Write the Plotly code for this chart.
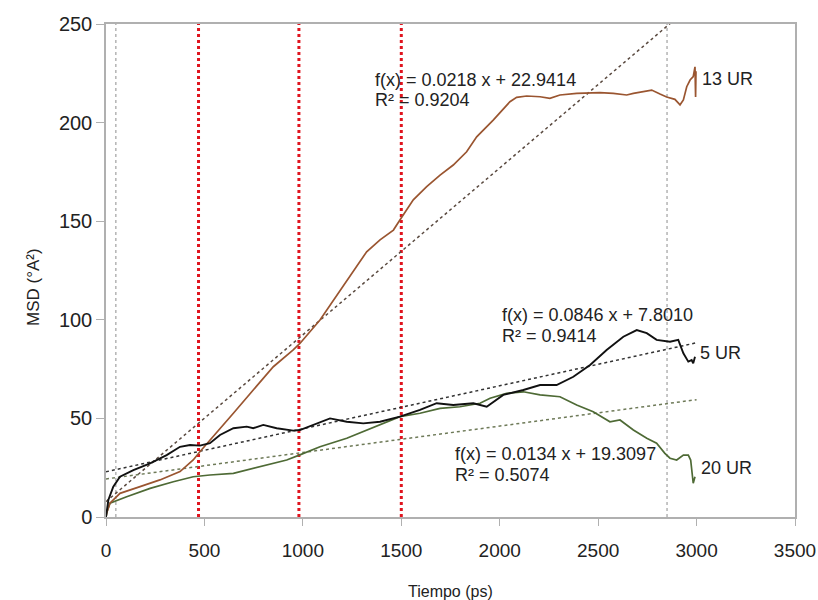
import plotly.graph_objects as go

# ---------------- data ----------------
t13 = [0, 3, 20, 71, 173, 274, 376, 443, 477, 545, 647, 748, 850, 951, 985, 1087, 1189, 1273,
       1324, 1392, 1460, 1493, 1561, 1629, 1697, 1764, 1832, 1883, 1967, 2052, 2086, 2137, 2205,
       2255, 2306, 2391, 2459, 2509, 2577, 2645, 2679, 2729, 2772, 2814, 2848, 2890, 2916, 2933,
       2950, 2967, 2983, 2992, 2995, 2997]
msd13 = [0, 2, 7, 12, 15.4, 18.8, 23, 28.9, 33.1, 40.7, 52.6, 64.4, 76.2, 84.7, 88, 99.9, 115, 127,
         134.5, 140.5, 145.5, 150.6, 160.8, 167.5, 173.4, 178.5, 185.2, 192.8, 201.3, 210.6, 212.8,
         213.5, 213.1, 212.3, 214, 214.8, 215.2, 215.2, 214.8, 214, 214.8, 215.7, 216.5, 214.5, 213,
         211.8, 209, 211.5, 218.2, 221.6, 223.3, 228.3, 213, 226]

t5 = [0, 3, 12, 37, 71, 139, 224, 308, 376, 427, 477, 528, 579, 647, 715, 748, 799, 867, 951,
      985, 1053, 1138, 1223, 1307, 1392, 1493, 1595, 1680, 1764, 1866, 1934, 2001, 2018, 2120,
      2205, 2289, 2374, 2459, 2543, 2628, 2696, 2747, 2797, 2865, 2907, 2933, 2958, 2975, 2983,
      2992]
msd5 = [0, 2, 8.6, 15.4, 20.4, 23.8, 27.2, 31.4, 35.6, 36.5, 36.2, 37.4, 41.6, 45, 45.8, 45,
        46.7, 45, 43.8, 44.1, 46.7, 50, 48.3, 47.5, 48.3, 50.9, 54.3, 57.7, 56.8, 57.7, 55.9,
        60.5, 61.9, 64.4, 66.9, 66.9, 71.1, 77.1, 84.7, 91.4, 94.8, 93.2, 89.8, 88.9, 89.8, 83,
        78.8, 79.6, 77.9, 81.3]

t20 = [0, 3, 20, 105, 224, 342, 443, 528, 647, 715, 816, 918, 985, 1087, 1223, 1324, 1409,
       1493, 1595, 1697, 1798, 1900, 1951, 2035, 2120, 2205, 2306, 2391, 2475, 2560, 2611, 2679,
       2747, 2797, 2839, 2865, 2899, 2933, 2958, 2970, 2983, 2992]
msd20 = [0, 2, 7, 10.3, 14.5, 17.9, 20.4, 21.3, 22.1, 23.8, 26.4, 28.9, 31.5, 35.6, 39.9, 44.1,
         47.5, 50.9, 52.6, 55.1, 55.9, 57.7, 60.2, 62.7, 63.5, 61.9, 61, 56.8, 53.4, 48.3, 49.2,
         44.1, 39.9, 37.4, 32.3, 29.8, 28.9, 31.4, 31.4, 28.9, 17.1, 20.4]

# linear fits shown on chart: (slope, intercept)
fit13 = (0.0846, 7.8010)
fit5 = (0.0218, 22.9414)
fit20 = (0.0134, 19.3097)
fit_range = [0, 3000]

red_marks = [470, 980, 1500]
gray_marks = [50, 2850]

x_ticks = [0, 500, 1000, 1500, 2000, 2500, 3000, 3500]
y_ticks = [0, 50, 100, 150, 200, 250]

# ---------------- figure ----------------
C13 = "#9a5530"
C5 = "#111111"
C20 = "#4e6a35"
FONT = "Liberation Sans"

fig = go.Figure()

for xv in gray_marks:
    fig.add_trace(go.Scatter(x=[xv, xv], y=[0, 250], mode="lines",
                             line=dict(color="#a8a8a8", width=1.3, dash="dot"),
                             hoverinfo="skip", showlegend=False))
for xv in red_marks:
    fig.add_trace(go.Scatter(x=[xv, xv], y=[0, 250], mode="lines",
                             line=dict(color="#e0141e", width=3, dash="dot"),
                             hoverinfo="skip", showlegend=False))

for (m, b), col in [(fit13, "#5a4a40"), (fit5, "#333333"), (fit20, "#6e7a58")]:
    fig.add_trace(go.Scatter(x=fit_range, y=[m * fit_range[0] + b, m * fit_range[1] + b],
                             mode="lines", line=dict(color=col, width=1.5, dash="dot"),
                             hoverinfo="skip", showlegend=False))

fig.add_trace(go.Scatter(x=t20, y=msd20, mode="lines", name="20 UR",
                         line=dict(color=C20, width=1.7), showlegend=False))
fig.add_trace(go.Scatter(x=t13, y=msd13, mode="lines", name="13 UR",
                         line=dict(color=C13, width=1.7), showlegend=False))
fig.add_trace(go.Scatter(x=t5, y=msd5, mode="lines", name="5 UR",
                         line=dict(color=C5, width=1.9), showlegend=False))

ann_font = dict(family=FONT, size=18, color="#222222")
annotations = [
    ("f(x) = 0.0218 x + 22.9414", 1356, 221.6),
    ("R² = 0.9204", 1356, 211.5),
    ("f(x) = 0.0846 x + 7.8010", 2001, 102.2),
    ("R² = 0.9414", 2001, 91.8),
    ("f(x) = 0.0134 x + 19.3097", 1763, 31.9),
    ("R² = 0.5074", 1763, 21.1),
    ("13 UR", 3017, 222.1),
    ("5 UR", 3005, 83.0),
    ("20 UR", 3010, 25.0),
]
for txt, xa, ya in annotations:
    fig.add_annotation(x=xa, y=ya, text=txt, showarrow=False, xanchor="left", yanchor="middle",
                       align="left", font=ann_font)

# axis titles as annotations for exact placement
fig.add_annotation(xref="paper", yref="y", x=-0.106, y=116.6, text="MSD (°A²)", textangle=-90,
                   showarrow=False, xanchor="center", yanchor="middle",
                   font=dict(family=FONT, size=17, color="#222222"))
fig.add_annotation(xref="paper", yref="paper", x=0.5, y=-0.152, text="Tiempo (ps)",
                   showarrow=False, xanchor="center", yanchor="middle",
                   font=dict(family=FONT, size=16, color="#222222"))

fig.update_layout(
    width=818, height=600,
    margin=dict(l=106, r=23, t=24, b=83, autoexpand=False),
    plot_bgcolor="white", paper_bgcolor="white",
    font=dict(family=FONT, color="#222222"),
    xaxis=dict(range=[0, 3500], tickvals=x_ticks, showgrid=False, zeroline=False,
               showline=True, linecolor="#b0b0b0", linewidth=1.5, mirror=True,
               ticks="outside", ticklen=7, tickcolor="#b0b0b0", automargin=False,
               ticklabelstandoff=8,
               tickfont=dict(size=19, family=FONT)),
    yaxis=dict(range=[0, 250], tickvals=y_ticks, showgrid=False, zeroline=False,
               showline=True, linecolor="#b0b0b0", linewidth=1.5, mirror=True,
               ticks="outside", ticklen=8, tickcolor="#b0b0b0", automargin=False,
               tickfont=dict(size=20, family=FONT)),
)

fig.write_html("out.html")
